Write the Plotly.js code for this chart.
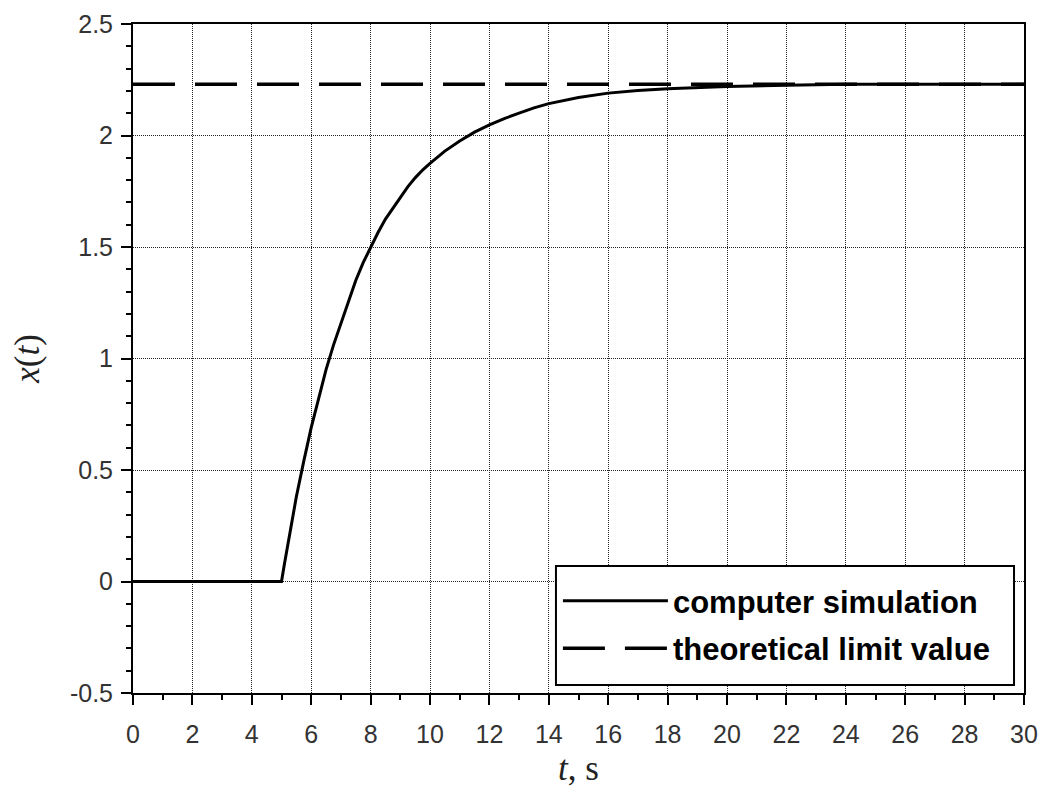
<!DOCTYPE html>
<html>
<head>
<meta charset="utf-8">
<script src="https://cdn.plot.ly/plotly-3.0.1.min.js"></script>
<style>html,body{margin:0;padding:0;background:#fff;}#chart{width:1046px;height:793px;}</style>
</head>
<body>
<div id="chart"></div>
<script>
// Time samples (s) and simulated response
const tSim = [0, 5, 5.1, 5.25, 5.5, 5.75, 6, 6.25, 6.5, 6.75, 7, 7.25, 7.5, 7.75, 8, 8.25, 8.5, 8.75, 9, 9.25, 9.5, 9.75, 10, 10.5, 11, 11.5, 12, 12.5, 13, 13.5, 14, 15, 16, 17, 18, 20, 22, 24, 26, 28, 30];
const xSim = [0, 0, 0.08, 0.2, 0.38, 0.54, 0.69, 0.82, 0.95, 1.06, 1.16, 1.26, 1.35, 1.43, 1.5, 1.565, 1.625, 1.675, 1.72, 1.77, 1.81, 1.845, 1.875, 1.93, 1.975, 2.015, 2.048, 2.076, 2.1, 2.124, 2.143, 2.17, 2.19, 2.202, 2.21, 2.22, 2.225, 2.23, 2.23, 2.23, 2.23];
// Theoretical limit value
const tLimit = [0, 30];
const xLimit = [2.23, 2.23];
// Series names
const seriesNames = ['computer simulation', 'theoretical limit value'];
// Tick values / labels
const xTickVals = [0, 2, 4, 6, 8, 10, 12, 14, 16, 18, 20, 22, 24, 26, 28, 30];
const xTickText = ['0', '2', '4', '6', '8', '10', '12', '14', '16', '18', '20', '22', '24', '26', '28', '30'];
const yTickVals = [-0.5, 0, 0.5, 1, 1.5, 2, 2.5];
const yTickText = ['-0.5', '0', '0.5', '1', '1.5', '2', '2.5'];

const tickFont = {family: 'Liberation Sans, Arial, sans-serif', size: 25, color: '#333'};
const titleFont = {family: 'Liberation Serif, DejaVu Serif, serif', size: 35, color: '#222'};

const traces = [
  {x: tSim, y: xSim, name: seriesNames[0], type: 'scatter', mode: 'lines',
   line: {color: '#000', width: 3}, legendgroup: 'a'},
  {x: tLimit, y: xLimit, name: seriesNames[1], type: 'scatter', mode: 'lines',
   line: {color: '#000', width: 3.5, dash: '42px,20px'}, legendgroup: 'b'}
];

const axisCommon = {
  showline: true, linecolor: '#000', linewidth: 2, mirror: true,
  ticks: 'outside', ticklen: 10, tickwidth: 2, tickcolor: '#000',
  showgrid: true, gridcolor: '#222', gridwidth: 1, griddash: '1px,1px',
  zeroline: false, tickfont: tickFont, tickmode: 'array'
};

const layout = {
  width: 1046, height: 793,
  margin: {l: 133, r: 22, t: 24, b: 100},
  paper_bgcolor: '#fff', plot_bgcolor: '#fff',
  showlegend: true,
  xaxis: Object.assign({}, axisCommon, {
    range: [0, 30], tickvals: xTickVals, ticktext: xTickText, ticklabelstandoff: 8,
    minor: {dtick: 1, tick0: 0, ticks: 'outside', ticklen: 5, tickwidth: 2, tickcolor: '#000', showgrid: false},
    title: {text: '<i>t</i>, s', font: titleFont, standoff: 8}
  }),
  yaxis: Object.assign({}, axisCommon, {
    range: [-0.5, 2.5], tickvals: yTickVals, ticktext: yTickText, ticklabelstandoff: 3,
    minor: {dtick: 0.1, tick0: 0, ticks: 'outside', ticklen: 5, tickwidth: 2, tickcolor: '#000', showgrid: false},
    title: {text: '<i>x</i>(<i>t</i>)', font: titleFont, standoff: 20}
  }),
  shapes: [
    {type: 'rect', xref: 'paper', yref: 'paper', x0: 0.4747, x1: 0.9888, y0: 0.012, y1: 0.1898,
     fillcolor: '#fff', line: {color: '#000', width: 2}, layer: 'above'}
  ],
  legend: {
    x: 0.4769, y: 0.1776, xanchor: 'left', yanchor: 'top',
    bgcolor: 'rgba(0,0,0,0)', borderwidth: 0,
    font: {family: 'Liberation Sans, Arial, sans-serif', size: 31, weight: 'bold', color: '#000'},
    itemwidth: 105, tracegroupgap: 4
  }
};

Plotly.newPlot('chart', traces, layout, {displayModeBar: false, staticPlot: true});
</script>
</body>
</html>
